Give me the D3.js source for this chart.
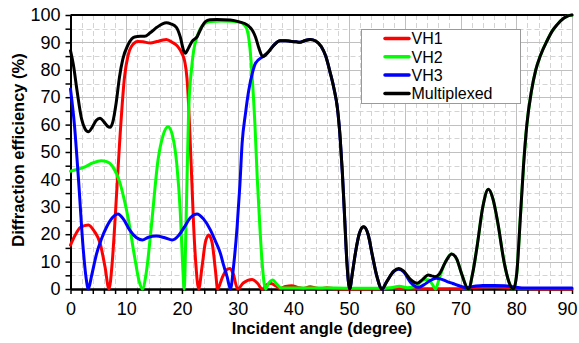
<!DOCTYPE html>
<html><head><meta charset="utf-8">
<script src="https://cdn.jsdelivr.net/npm/d3@7"></script>
<style>
html,body{margin:0;padding:0;background:#fff;}
svg{display:block;font-family:"Liberation Sans",Arial,sans-serif;}
</style></head>
<body><svg id="chart" width="579" height="343"></svg>
<script>
// ---- data: [incident angle (deg), diffraction efficiency (%)] ----
const seriesNames = ["VH1","VH2","VH3","Multiplexed"];
const seriesColors = ["#ff0000","#00ff00","#0000ff","#000000"];
const xTickValues = [0,10,20,30,40,50,60,70,80,90];
const yTickValues = [0,10,20,30,40,50,60,70,80,90,100];

const vh1 = [[0,16],[0.8,19.5],[1.8,22.5],[3.2,23.4],[4.3,21],[5.3,16.8],[6.2,8],[6.9,0],[7.5,10],[8.1,28.8],[8.8,53],[9.7,77.5],[10.3,85],[10.9,88.4],[12.1,90.3],[13,90.2],[14.3,89.8],[15.5,90.3],[16.4,90.8],[17.2,91.1],[18.3,90],[19.3,88.4],[20,86],[20.5,83],[20.9,77],[21.2,67],[21.5,53],[21.8,38],[22.1,23],[22.5,9],[23,0],[23.6,8],[24.2,17],[24.8,19.7],[25.4,17],[26,7],[26.4,0],[27.2,4],[28,7],[28.6,7.5],[29.2,5.5],[30,0],[31,2.2],[32.6,3.5],[33.6,2],[34.4,0],[35.2,1.5],[36,2],[36.8,1.2],[37.6,0.2],[38.6,0.9],[39.7,1.2],[40.8,0.6],[41.8,0.2],[43,0.8],[44,0.4],[45,0.1],[46,0.5],[47.5,0.1],[50,0],[55,0.1],[58,0.3],[60,0.1],[65,0.1],[70,0.1],[72,0.5],[76,0.8],[80,0.3],[85,0],[90,0]];

const vh2 = [[0,43],[1,43.5],[2.5,44.5],[4,46],[5.5,46.8],[6.5,46.5],[7.6,44.6],[8.8,39.2],[9.6,33],[10.3,26.4],[11.5,11.8],[12.3,3],[12.9,0],[13.6,6],[14.5,22.7],[15.7,47],[16.6,56],[17.5,59.2],[18.3,56],[19.1,45],[19.7,28],[20.1,10],[20.4,0],[20.8,30],[21.2,65],[21.7,80],[22.1,87],[22.7,92],[23.3,95],[24.2,97],[25.1,97.6],[27,97.8],[29,97.7],[30.5,97.3],[31.2,96.3],[31.7,94.5],[32.2,88],[32.6,77.5],[33.1,60],[33.5,41],[34,22],[34.4,9.4],[35,0],[35.6,2.2],[36.3,3.3],[37,1.8],[37.8,0.4],[40,0.4],[45,0.4],[50,0.3],[55,0.3],[57.5,0.5],[59,1],[60.5,0.5],[61.8,0.8],[62.8,2.5],[63.6,3.5],[64.3,3.3],[65,1.5],[65.5,0],[66.2,4],[67.2,9.5],[68.4,12.8],[69.3,11],[70.2,5.5],[71.4,0],[72.2,6],[73,16],[74,30],[75,36.4],[75.8,33],[76.7,24],[77.8,10],[78.7,2.5],[79.5,0],[80.1,6],[80.7,25],[81.3,45],[81.9,60],[82.7,72],[83.5,80],[84.3,85],[85.5,90.5],[86.5,94.3],[87.3,96.4],[88.5,98.8],[89.3,99.7],[90,100]];

const vh3 = [[0,73],[0.7,60],[1.4,41],[2.3,14.2],[2.8,4],[3.2,0],[3.8,5],[4.7,13],[5.5,18],[6.5,22.7],[7.5,26],[8.5,27.4],[9.5,25.5],[10.6,21.6],[11.8,18.8],[12.9,17.9],[14,18.9],[15.4,19.3],[16.8,18.8],[18.3,17.9],[19.4,19.5],[20.4,22.5],[21.5,26],[22.7,27.4],[23.9,25.5],[25.1,21.6],[26,17.5],[26.9,13],[27.5,8.5],[28.1,4.5],[28.7,0],[29.3,9],[29.9,22.7],[30.4,38],[30.8,53.2],[31.4,64],[32,72.6],[32.6,78.5],[33.2,82.4],[34.5,84.8],[35.5,86.5],[36.5,89],[37.6,90.6],[38.6,90.6],[39.5,90.4],[40.5,90.2],[41.2,90.1],[42,90.6],[43,91.1],[44,90.5],[45,88.5],[45.8,85],[46.6,79],[47.3,73],[47.9,66],[48.4,55],[48.8,42],[49.2,26],[49.6,10],[50.1,0],[50.6,6],[51.2,14],[51.8,20],[52.6,22.7],[53.4,20],[54.2,12],[55,4.5],[55.9,0],[56.7,2.5],[58,6.3],[58.9,7.2],[59.8,6.2],[61,2.5],[62.4,0.6],[63.4,1.5],[64.5,3],[65.6,3.9],[66.5,3.6],[67.5,2.8],[68.6,2],[70,1],[71,0.5],[72.5,1],[74,1.3],[76,1.3],[78,1.2],[79.5,0.8],[81,0.4],[90,0.4]];

const multiplexed = [[0,87],[0.5,82],[1.2,72],[2,62],[2.6,58.5],[3.2,57.4],[3.9,59],[4.6,61.5],[5.3,62.3],[6,61],[6.6,59.5],[7.1,59],[7.6,61],[8.2,68],[8.8,77.5],[9.4,84],[10.3,89],[11,91.3],[11.5,92],[12.5,92.2],[13.3,92.2],[14.3,93.5],[15.5,95.5],[16.5,96.8],[17.2,97.2],[18,96.8],[19,95.5],[19.7,92],[20.3,87],[20.6,86],[21.2,88],[21.8,90.3],[22.7,92],[23.4,95],[24.2,97.6],[25,98.3],[26.3,98.4],[28.7,98.2],[30.3,97.5],[31.7,96.4],[32.6,94.5],[33.2,92],[33.8,88],[34.5,84.8],[35.5,86.5],[36.5,89],[37.6,90.6],[38.6,90.6],[39.5,90.4],[40.5,90.2],[41.2,90.1],[42,90.6],[43,91.1],[44,90.5],[45,88.5],[45.8,85],[46.6,79],[47.3,73],[47.9,66],[48.4,55],[48.8,42],[49.2,26],[49.6,10],[50.1,0],[50.6,6],[51.2,14],[51.8,20],[52.6,22.7],[53.4,20],[54.2,12],[55,4.5],[55.9,0],[56.7,2.5],[58,6.5],[58.9,7.5],[59.8,6.5],[61,3.5],[62.2,2.1],[63.2,3.5],[64.2,5.1],[64.8,4.8],[65.4,4.5],[66.2,5.5],[67.2,9.5],[68.4,12.8],[69.3,11],[70.2,5.5],[71.4,0],[72.2,6],[73,16],[74,30],[75,36.4],[75.8,33],[76.7,24],[77.8,10],[78.7,2.5],[79.5,0],[80.1,6],[80.7,25],[81.3,45],[81.9,60],[82.7,72],[83.5,80],[84.3,85],[85.5,90.5],[86.5,94.3],[87.3,96.4],[88.5,98.8],[89.3,99.7],[90,100]];

const allSeries = [vh1, vh2, vh3, multiplexed];

// ---- drawing ----
const svg = d3.select("#chart");
const L = 70.5, R = 572, T = 15, B = 289;
const x = d3.scaleLinear().domain([0,90]).range([L,R]);
const y = d3.scaleLinear().domain([0,100]).range([B,T]);

const grid = svg.append("g");
// minor dashed grid
grid.selectAll("line.vminor").data(d3.range(2,90,2).filter(v=>v%10!==0)).join("line")
  .attr("x1",d=>Math.round(x(d))+0.5).attr("x2",d=>Math.round(x(d))+0.5).attr("y1",T).attr("y2",B)
  .attr("stroke","#d4d4d4").attr("stroke-dasharray","5,3");
grid.selectAll("line.hminor").data(d3.range(5,100,10)).join("line")
  .attr("y1",d=>Math.round(y(d))+0.5).attr("y2",d=>Math.round(y(d))+0.5).attr("x1",L).attr("x2",R)
  .attr("stroke","#d4d4d4").attr("stroke-dasharray","5,3");
// major solid grid
grid.selectAll("line.vmajor").data(xTickValues.slice(1)).join("line")
  .attr("x1",d=>Math.round(x(d))+0.5).attr("x2",d=>Math.round(x(d))+0.5).attr("y1",T).attr("y2",B)
  .attr("stroke","#c0c0c0");
grid.selectAll("line.hmajor").data(yTickValues.slice(1)).join("line")
  .attr("y1",d=>Math.round(y(d))+0.5).attr("y2",d=>Math.round(y(d))+0.5).attr("x1",L).attr("x2",R)
  .attr("stroke","#c0c0c0");
// top border
svg.append("line").attr("x1",L).attr("x2",R).attr("y1",T).attr("y2",T).attr("stroke","#000").attr("stroke-width",2);

// axes
const xAxis = svg.append("g").attr("transform",`translate(0,${B})`)
  .call(d3.axisBottom(x).tickValues(xTickValues).tickSize(5).tickPadding(8).tickSizeOuter(0));
const xMinor = svg.append("g").attr("transform",`translate(0,${B})`)
  .call(d3.axisBottom(x).tickValues(d3.range(2,90,2).filter(v=>v%10!==0)).tickSize(5).tickFormat("").tickSizeOuter(0));
const yAxis = svg.append("g").attr("transform",`translate(${L},0)`)
  .call(d3.axisLeft(y).tickValues(yTickValues).tickSize(5).tickPadding(5).tickSizeOuter(0));
const yMinor = svg.append("g").attr("transform",`translate(${L},0)`)
  .call(d3.axisLeft(y).tickValues(d3.range(5,100,10)).tickSize(5).tickFormat("").tickSizeOuter(0));
[xAxis,xMinor,yAxis,yMinor].forEach(g=>{
  g.select(".domain").attr("stroke","#000").attr("stroke-width",2);
  g.selectAll(".tick line").attr("stroke","#000").attr("stroke-width",1.5);
  g.selectAll(".tick text").attr("fill","#000").style("font-size","18px").style("font-family","'Liberation Sans',Arial,sans-serif");
});
// keep the last x label inside the picture
xAxis.selectAll(".tick text").filter(d=>d===90).attr("text-anchor","end").attr("dx","5");

// lines
const line = d3.line().x(d=>x(d[0])).y(d=>y(d[1])).curve(d3.curveMonotoneX);
svg.append("g").selectAll("path").data(allSeries).join("path")
  .attr("d",line).attr("fill","none")
  .attr("stroke",(d,i)=>seriesColors[i]).attr("stroke-width",3)
  .attr("stroke-linejoin","round").attr("stroke-linecap","round");

// axis titles
svg.append("text").attr("x",322).attr("y",334).attr("text-anchor","middle")
  .style("font-size","16.5px").style("font-weight","bold").text("Incident angle (degree)");
svg.append("text").attr("transform","translate(24,150) rotate(-90)").attr("text-anchor","middle")
  .style("font-size","16.5px").style("font-weight","bold").text("Diffraction efficiency (%)");

// legend
const lg = svg.append("g");
lg.append("rect").attr("x",361.5).attr("y",29.5).attr("width",159).attr("height",74)
  .attr("fill","#fff").attr("stroke","#9a9a9a");
const items = lg.selectAll("g.item").data(seriesNames).join("g")
  .attr("transform",(d,i)=>`translate(0,${38.5+i*18.3})`);
items.append("line").attr("x1",385).attr("x2",409).attr("y1",0).attr("y2",0)
  .attr("stroke",(d,i)=>seriesColors[i]).attr("stroke-width",3.5).attr("stroke-linecap","round");
items.append("text").attr("x",411.5).attr("y",0).attr("dy","0.36em")
  .style("font-size","16px").text(d=>d);
</script></body></html>
